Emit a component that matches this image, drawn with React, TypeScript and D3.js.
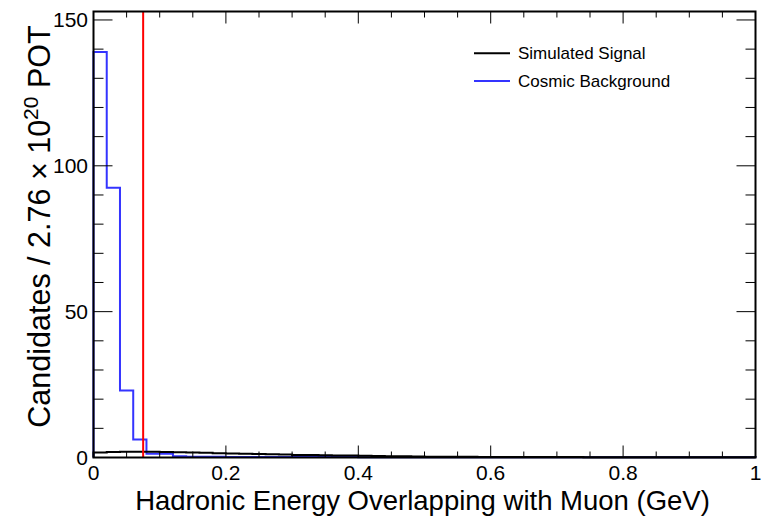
import React from "react";
import * as d3 from "d3";

const binEdgesStart = 0;
const binWidth = 0.02;
const cosmicBackground = [
  139, 92.5, 23, 6.2, 1.3, 1.3, 0.45, 0.25, 0.25, 0.25,
  0.2, 0.2, 0.2, 0.2, 0.2, 0.2, 0.15, 0.15, 0.15, 0.15,
  0.1, 0.1, 0.1, 0.1, 0.1, 0.1, 0.1, 0.1, 0.1, 0.1,
  0.05, 0.05, 0.05, 0.05, 0.05, 0.05, 0.05, 0.05, 0.05, 0.05,
  0.05, 0.05, 0.05, 0.05, 0.05, 0.05, 0.05, 0.05, 0.05, 0.05,
];
const simulatedSignal = [
  1.7, 1.9, 2.0, 2.0, 2.0, 1.9, 1.8, 1.7, 1.6, 1.5,
  1.4, 1.3, 1.2, 1.1, 1.0, 0.9, 0.85, 0.8, 0.7, 0.65,
  0.6, 0.5, 0.45, 0.4, 0.35, 0.3, 0.3, 0.25, 0.25, 0.2,
  0.2, 0.2, 0.18, 0.16, 0.15, 0.14, 0.13, 0.12, 0.11, 0.1,
  0.1, 0.09, 0.08, 0.08, 0.07, 0.06, 0.06, 0.05, 0.05, 0.05,
];
const cutValue = 0.075;
const xMajorTicks = [0, 0.2, 0.4, 0.6, 0.8, 1];
const xTickLabels = ["0", "0.2", "0.4", "0.6", "0.8", "1"];
const yMajorTicks = [0, 50, 100, 150];
const yTickLabels = ["0", "50", "100", "150"];
const legendLabels = ["Simulated Signal", "Cosmic Background"];
const xTitle = "Hadronic Energy Overlapping with Muon (GeV)";

const W = 761;
const H = 518;
const L = 93.5, R = 755.5, T = 11.5, B = 457.5;
const FONT = "'Liberation Sans', Arial, Helvetica, sans-serif";

export default function App() {
  const x = d3.scaleLinear().domain([0, 1]).range([L, R]);
  const y = d3.scaleLinear().domain([0, 152.9]).range([B, T]);

  const histPath = (vals: number[]) => {
    const pts: [number, number][] = [[binEdgesStart, 0]];
    vals.forEach((v, i) => {
      const x0 = binEdgesStart + i * binWidth;
      pts.push([x0, v]);
      pts.push([x0 + binWidth, v]);
    });
    pts.push([binEdgesStart + vals.length * binWidth, 0]);
    return d3.line<[number, number]>().x((d) => x(d[0])).y((d) => y(d[1]))(pts) || "";
  };

  const xMinor = d3.range(0, 1.0001, 0.05);
  const yMinor = d3.range(0, 152, 10);

  return (
    <svg width={W} height={H} style={{ position: "absolute", left: 0, top: 0, background: "#fff" }} fontFamily={FONT}>
      <rect x={0} y={0} width={W} height={H} fill="#fff" />
      <path d={histPath(cosmicBackground)} fill="none" stroke="#3434ff" strokeWidth={2} />
      <path d={histPath(simulatedSignal)} fill="none" stroke="#000" strokeWidth={2} />
      <line x1={x(cutValue)} x2={x(cutValue)} y1={T} y2={B} stroke="#ff0000" strokeWidth={2} />
      {/* ticks */}
      <g stroke="#000" strokeWidth={1}>
        {xMinor.map((v, i) => {
          const major = Math.abs(v * 5 - Math.round(v * 5)) < 1e-6;
          const len = major ? 12 : 6;
          return (
            <g key={"xt" + i}>
              <line x1={x(v)} x2={x(v)} y1={B} y2={B - len} />
              <line x1={x(v)} x2={x(v)} y1={T} y2={T + len} />
            </g>
          );
        })}
        {yMinor.map((v, i) => {
          const major = v % 50 === 0;
          const len = major ? 19 : 10;
          return (
            <g key={"yt" + i}>
              <line x1={L} x2={L + len} y1={y(v)} y2={y(v)} />
              <line x1={R} x2={R - len} y1={y(v)} y2={y(v)} />
            </g>
          );
        })}
      </g>
      <rect x={L} y={T} width={R - L} height={B - T} fill="none" stroke="#000" strokeWidth={2} />
      {/* tick labels */}
      {xMajorTicks.map((v, i) => (
        <text key={"xl" + i} x={x(v)} y={480} fontSize={21} textAnchor="middle">
          {xTickLabels[i]}
        </text>
      ))}
      {yMajorTicks.map((v, i) => (
        <text key={"yl" + i} x={88} y={y(v) + 7.5} fontSize={21} textAnchor="end">
          {yTickLabels[i]}
        </text>
      ))}
      {/* axis titles */}
      <text x={(L + R) / 2 - 2} y={510} fontSize={27.5} textAnchor="middle">
        {xTitle}
      </text>
      <text transform={`translate(50, ${(T + B) / 2 - 8}) rotate(-90)`} fontSize={30.5} textAnchor="middle">
        Candidates / 2.76 × 10
        <tspan dy={-12} fontSize={21}>20</tspan>
        <tspan dy={12}> POT</tspan>
      </text>
      {/* legend */}
      {legendLabels.map((lab, i) => {
        const ly = 53.3 + i * 27.7;
        return (
          <g key={"lg" + i}>
            <line x1={474} x2={510} y1={ly} y2={ly} stroke={i === 0 ? "#000" : "#3434ff"} strokeWidth={2} />
            <text x={518} y={ly + 5.5} fontSize={17}>
              {lab}
            </text>
          </g>
        );
      })}
    </svg>
  );
}
